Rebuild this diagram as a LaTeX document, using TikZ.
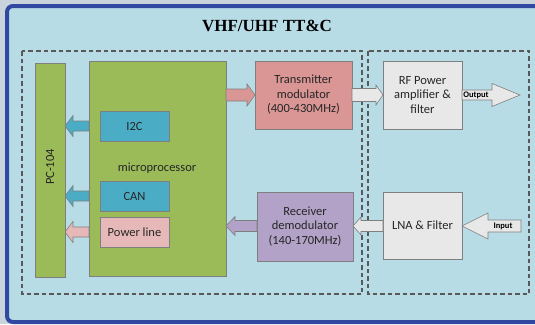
\documentclass[tikz,border=0pt]{standalone}
\usepackage{fontspec}
\setmainfont{Carlito}
\newfontfamily\titlefont{Liberation Serif}
\usetikzlibrary{calc}
\definecolor{bgout}{HTML}{C9D3DB}
\definecolor{panel}{HTML}{B8DCE6}
\definecolor{frame}{HTML}{3048A0}
\definecolor{green}{HTML}{9BBB59}
\definecolor{teal}{HTML}{4BACC6}
\definecolor{pink}{HTML}{E6B9B8}
\definecolor{salmon}{HTML}{D99694}
\definecolor{purple}{HTML}{B3A2C7}
\definecolor{lgray}{HTML}{E8E8E8}
\definecolor{dash}{HTML}{595959}
\definecolor{edge}{HTML}{7F7F7F}
\tikzset{
  blk/.style={draw=edge, line width=0.8pt, inner sep=0pt, outer sep=0pt, align=center,
    font=\fontsize{12.5pt}{14.5pt}\selectfont, text=black!85},
  grp/.style={draw=dash, line width=1.4pt, dash pattern=on 4.5pt off 3pt},
  arrowline/.style={draw=edge, line width=0.6pt},
}
% #1 fill, #2 from, #3 to, #4 body half, #5 head half, #6 head length
\newcommand\fatarrow[6]{%
  \path (#2) coordinate (fa1) (#3) coordinate (fa2);
  \path ($(fa2)!#6!(fa1)$) coordinate (fa3);
  \draw[arrowline, fill=#1] ($(fa1)+(0,#4)$) -- ($(fa3)+(0,#4)$) -- ($(fa3)+(0,#5)$) -- (fa2)
    -- ($(fa3)+(0,-#5)$) -- ($(fa3)+(0,-#4)$) -- ($(fa1)+(0,-#4)$) -- cycle;}
\begin{document}
\begin{tikzpicture}[x=1pt,y=-1pt]
\useasboundingbox (0,0) rectangle (535,324);
\fill[bgout] (0,0) rectangle (535,324);
\draw[frame, fill=panel, line width=4pt, rounded corners=6pt] (7,6) rectangle (548,322);
\node[font=\titlefont\bfseries\fontsize{17pt}{20pt}\selectfont] (title) at (267,26) {VHF/UHF TT\&C};
\draw[grp] (22,51) rectangle (362,294);
\draw[grp] (368,51) rectangle (529,294);

\node[blk, fill=green, minimum width=30pt, minimum height=214pt] (pc) at (50,170) {};
\node[font=\fontsize{12.5pt}{13pt}\selectfont, rotate=90, text=black!85] (pclabel) at (50,167) {PC-104};
\node[blk, fill=green, minimum width=137pt, minimum height=215pt] (mp) at (157.5,168.5) {};
\node[font=\fontsize{12.5pt}{13pt}\selectfont, text=black!85] (mplabel) at (157,168) {microprocessor};
\node[blk, fill=teal, minimum width=69pt, minimum height=30pt] (i2c) at (134.5,126) {I2C};
\node[blk, fill=teal, minimum width=69pt, minimum height=30pt] (can) at (134.5,196) {CAN};
\node[blk, fill=pink, minimum width=69pt, minimum height=30pt] (pwr) at (134.5,232) {Power line};

\node[blk, fill=salmon, minimum width=97pt, minimum height=68pt] (tx) at (303.5,95) {Transmitter\\modulator\\(400-430MHz)};
\node[blk, fill=purple, minimum width=96pt, minimum height=69pt] (rx) at (305,226.5) {Receiver\\demodulator\\(140-170MHz)};
\node[blk, fill=lgray, minimum width=79pt, minimum height=68pt] (rf) at (422.5,95) {RF Power\\amplifier \&\\filter};
\node[blk, fill=lgray, minimum width=79pt, minimum height=67pt] (lna) at (422.5,225.5) {LNA \& Filter};

\coordinate (outend) at (520,95);
\coordinate (inend) at (521,226);

\fatarrow{teal}{mp.west |- i2c.center}{pc.east |- i2c.center}{5}{10.5}{8pt}
\fatarrow{teal}{mp.west |- can.center}{pc.east |- can.center}{5}{10.5}{8pt}
\fatarrow{pink}{mp.west |- pwr.center}{pc.east |- pwr.center}{5}{10.5}{8pt}
\fatarrow{salmon}{mp.east |- tx.center}{tx.west}{6}{11}{8pt}
\fatarrow{purple}{rx.west |- 0,226}{mp.east |- 0,226}{5.5}{9.5}{9pt}
\fatarrow{lgray}{tx.east}{rf.west}{6.5}{10}{7pt}
\fatarrow{lgray}{lna.west |- 0,226}{rx.east |- 0,226}{5.5}{9}{8pt}
\fatarrow{lgray}{rf.east |- outend}{outend}{5}{11.5}{28pt}
\fatarrow{lgray}{inend}{lna.east |- inend}{6}{13}{26pt}
\node[font=\bfseries\fontsize{8.5pt}{9pt}\selectfont] (outlabel) at (476,95) {Output};
\node[font=\bfseries\fontsize{8.5pt}{9pt}\selectfont] (inlabel) at (503,226) {Input};
\end{tikzpicture}
\end{document}
